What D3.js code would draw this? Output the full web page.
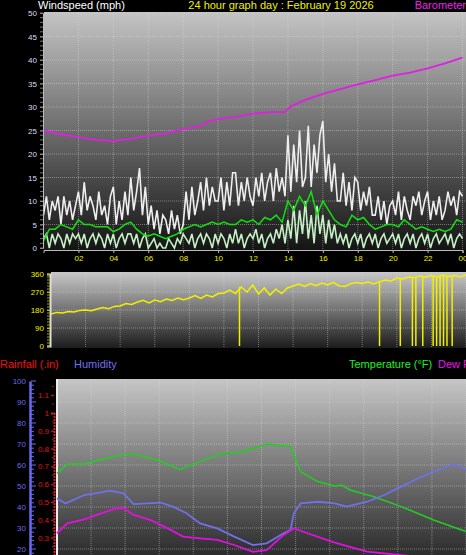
<!DOCTYPE html>
<html><head><meta charset="utf-8">
<script src="https://cdn.jsdelivr.net/npm/d3@7"></script>
<style>body{margin:0;background:#000}svg{display:block;font-family:"DejaVu Sans",sans-serif}</style>
</head><body><div id="chart"></div>
<script>
// gust and wind speed, 10 minute steps from 00:00 to 24:00
const gust = [7,11,6,10,8,11, 5,11,7,10,6,9, 12,7,14,8,11,9, 6,12,7,9,5,11, 13,5,10,6,12,7, 15,8,12,17,7,13,
  5,9,4,8,3,7, 6,3,8,4,7,3, 5,12,6,13,7,10, 14,8,15,9,13,10, 10,15,8,14,9,16, 16,9,14,10,15,11,
  9,15,11,16,10,14, 16,10,17,12,15,11, 24,12,22,14,25,13, 15,26,13,22,16,24, 27,14,20,12,18,10, 10,16,9,14,8,15,
  14,8,12,9,13,7, 7,11,6,10,5,9, 10,7,12,6,11,8, 6,11,9,12,7,10, 12,6,10,7,11,6, 8,12,9,11,7,12, 11];
const speed = [2,3,0,3,1,3, 2,0,3,1,3,2, 3,1,3,0,2,3, 1,3,2,0,3,1, 3,0,2,3,1,3, 3,1,3,0,2,3,
  0,1,2,0,1,0, 0,2,1,0,2,1, 3,2,1,3,0,2, 3,1,3,2,0,3, 1,3,2,0,3,1, 4,1,3,0,2,3,
  2,4,1,3,0,2, 3,1,4,2,5,1, 6,2,9,1,8,3, 10,2,7,1,9,3, 7,1,6,2,5,1, 3,1,3,0,2,3,
  1,3,0,2,3,1, 3,0,2,3,1,2, 3,1,3,0,2,3, 1,3,0,2,3,1, 3,0,2,3,1,2, 3,1,3,0,2,3, 2];
// average speed and direction, 20 minute steps
const avgSpeed = [1.5,4,4, 5,4.5,4, 6,5,5, 4.5,4.5,4.5, 3.5,4,5, 5.5,4,3, 2.5,3,2.5, 2,2.5,3, 4,4.5,5, 4.5,5,5.5,
  5,5.5,5, 5,6,5.5, 6,5,6.5, 6,7,5.5, 10,8,11, 9,12,7, 10,8,6, 5,4.5,7, 6,6.5,5, 4,4.5,5,
  5,4.5,6, 5,4,4.5, 4,3.5,4, 3.5,4,6, 5.5];
const direction = [160,168,165, 172,170,178, 180,176,185, 192,186,198, 200,212,208, 220,228,215, 230,222,235, 228,240,232,
  240,252,238, 255,245,262, 265,280,262, 295,270,305, 260,290,255, 285,262,290, 300,310,298, 312,302,315,
  305,318,300, 298,312,318, 312,320,310, 322,330,325, 340,335,345, 342,350,345, 352,345,355, 348,352,345, 355];
const dirDropHours = [10.9,19.0,20.2,20.9,21.1,21.5,22.1,22.3,22.5,22.7,22.9,23.2];
const baroHours = [0,1,2,3,4,5,6,7,8,9,9.5,10,11,12,13,13.8,14.2,15,16,17,18,19,20,21,22,23,24];
const baro = [25,24.2,23.6,23,22.8,23.2,23.9,24.4,25.3,26,27,27.4,27.9,28.6,28.9,28.9,30.2,31.5,32.8,33.8,34.8,35.7,36.7,37.3,38.2,39.3,40.5];
const tempHours = [0,0.6,1.6,2.5,3.9,4.5,5.9,7.2,8.4,9.6,10.8,12,12.3,13.7,13.9,14.3,15.3,16.3,16.7,17.2,18.6,20.2,22.1,24];
const temperature = [56,60.5,60.5,62.4,65.1,65.2,62.4,57.9,61.6,65.2,66.3,69,70,68.7,64.8,56.8,52.1,50,50.5,48.1,44.9,40.2,33.8,28.3];
const humHours = [0,0.5,1.6,2.5,3.1,3.9,4.5,6.1,6.8,7.6,8.4,9.4,10.4,11.5,12.3,13.3,13.7,13.9,14.3,15.3,16.3,17,18.2,19.2,20.2,21.2,22.1,23.3,24];
const humidity = [44.1,41.7,45.7,46.8,47.8,46.5,41.4,42.1,40.2,37,32.2,29.8,25.9,21.9,22.7,27.5,29,37,41.7,42.5,41.7,40.2,42.5,45.7,49.7,53.7,56.8,60.5,57.9];
const dewHours = [0,0.6,1.6,2.5,3.5,3.9,4.5,5.5,6.5,7.4,8.4,9.4,10.4,11.5,12.3,13.3,13.9,14.7,16.3,18.2,20.2,22.1,24];
const dewPoint = [27.5,32.2,34.1,36.7,39.4,39.4,36.2,33.8,29.8,25.9,25.1,24.3,21.9,18.7,19.5,26.7,29.8,27.5,23,18.7,17.1,15.6,14.8];
const hourTicks = [2,4,6,8,10,12,14,16,18,20,22,24];
const hourLabels = ["02","04","06","08","10","12","14","16","18","20","22","00"];

const W = 466, H = 555;
const svg = d3.select("#chart").append("svg").attr("width", W).attr("height", H);
const defs = svg.append("defs");
function grad(id, top, bottom) {
  const g = defs.append("linearGradient").attr("id", id).attr("x1", 0).attr("x2", 0).attr("y1", 0).attr("y2", 1);
  g.append("stop").attr("offset", "0%").attr("stop-color", top);
  g.append("stop").attr("offset", "100%").attr("stop-color", bottom);
}
grad("g1", "#c4c4c4", "#141414");
grad("g2", "#c8c8c8", "#1c1c1c");
grad("g3", "#c6c6c6", "#2c2c2c");

const fineHours = gust.map((d, i) => i / 6);
const stepHours = avgSpeed.map((d, i) => i / 3);
const font = (sel, size, color) => sel.style("font-size", size + "px").attr("fill", color);
const titleFont = (sel, color) => sel.style("font-family", "'Liberation Sans', Arial, sans-serif").style("font-size", "11px").attr("fill", color);

function gridLines(g, x, y, yTicks, x0, x1, y0, y1) {
  g.selectAll(".vg").data(hourTicks).join("line")
    .attr("x1", d => x(d)).attr("x2", d => x(d)).attr("y1", y0).attr("y2", y1)
    .attr("stroke", "#d8d8d8").attr("stroke-opacity", 0.45).attr("stroke-dasharray", "1,1");
  g.selectAll(".hg").data(yTicks).join("line")
    .attr("x1", x0).attr("x2", x1).attr("y1", d => y(d)).attr("y2", d => y(d))
    .attr("stroke", "#d8d8d8").attr("stroke-opacity", 0.45).attr("stroke-dasharray", "1,1");
}

// ---------- panel 1: wind ----------
const x1 = d3.scaleLinear().domain([0, 24]).range([43.5, 462.5]);
const y1 = d3.scaleLinear().domain([0, 50]).range([248, 13]);
svg.append("rect").attr("x", 44).attr("y", 12).attr("width", W - 44).attr("height", 238).attr("fill", "url(#g1)");
const p1 = svg.append("g");
gridLines(p1, x1, y1, d3.range(5, 51, 5), 44, W, 12, 250);

p1.append("path").datum(gust).attr("d", d3.line().x((d, i) => x1(fineHours[i])).y(d => y1(d)))
  .attr("fill", "none").attr("stroke", "#eeeeee").attr("stroke-width", 1.6);
p1.append("path").datum(speed).attr("d", d3.line().x((d, i) => x1(fineHours[i])).y(d => y1(d)))
  .attr("fill", "none").attr("stroke", "#c4f0c4").attr("stroke-width", 1.6);
p1.append("path").datum(avgSpeed).attr("d", d3.line().x((d, i) => x1(stepHours[i])).y(d => y1(d)))
  .attr("fill", "none").attr("stroke", "#10e010").attr("stroke-width", 1.5);
p1.append("path").datum(baro).attr("d", d3.line().x((d, i) => x1(baroHours[i])).y(d => y1(d)))
  .attr("fill", "none").attr("stroke", "#e020e0").attr("stroke-width", 1.8);

const ay1 = svg.append("g").attr("transform", "translate(43,0)")
  .call(d3.axisLeft(y1).tickValues(d3.range(0, 51, 5)).tickSize(3).tickPadding(3));
ay1.select(".domain").attr("stroke", "#bbb");
ay1.selectAll("line").attr("stroke", "#999");
font(ay1.selectAll("text"), 8, "#dde");
svg.append("g").selectAll("line").data(d3.range(0, 51)).join("line")
  .attr("x1", 40).attr("x2", 43).attr("y1", d => y1(d)).attr("y2", d => y1(d)).attr("stroke", "#777");
const ax1 = svg.append("g").attr("transform", "translate(0,250)")
  .call(d3.axisBottom(x1).tickValues(hourTicks).tickFormat((d, i) => hourLabels[i]).tickSize(3).tickPadding(2));
ax1.select(".domain").attr("stroke", "#bbb");
ax1.selectAll("line").attr("stroke", "#bbb");
font(ax1.selectAll("text"), 8, "#f0f000");

titleFont(svg.append("text").attr("x", 38).attr("y", 9).text("Windspeed (mph)"), "#fff");
titleFont(svg.append("text").attr("x", 281).attr("y", 9).attr("text-anchor", "middle").text("24 hour graph day : February 19 2026"), "#f0f000");
titleFont(svg.append("text").attr("x", 466).attr("y", 9).attr("text-anchor", "end").text("Barometer"), "#f020f0");

// ---------- panel 2: wind direction ----------
const x2 = d3.scaleLinear().domain([0, 24]).range([51, 466]);
const y2 = d3.scaleLinear().domain([0, 360]).range([346, 274]);
svg.append("rect").attr("x", 51).attr("y", 272).attr("width", W - 51).attr("height", 76).attr("fill", "url(#g2)");
const p2 = svg.append("g");
gridLines(p2, x2, y2, [90, 180, 270], 51, W, 272, 348);
p2.append("path").datum(direction).attr("d", d3.line().x((d, i) => x2(stepHours[i])).y(d => y2(d)))
  .attr("fill", "none").attr("stroke", "#f0f000").attr("stroke-width", 1.5);
p2.selectAll(".drop").data(dirDropHours).join("line")
  .attr("x1", d => x2(d)).attr("x2", d => x2(d))
  .attr("y1", d => y2(direction[Math.round(d * 3)])).attr("y2", y2(0))
  .attr("stroke", "#f0f000").attr("stroke-width", 1.5);
const ay2 = svg.append("g").attr("transform", "translate(50,0)")
  .call(d3.axisLeft(y2).tickValues([0, 90, 180, 270, 360]).tickSize(3).tickPadding(3));
ay2.select(".domain").attr("stroke", "#ddd").attr("stroke-width", 2);
ay2.selectAll("line").attr("stroke", "#cc0");
font(ay2.selectAll("text"), 8, "#f0f000");
svg.append("g").selectAll("line").data(d3.range(0, 361, 15)).join("line")
  .attr("x1", 47).attr("x2", 50).attr("y1", d => y2(d)).attr("y2", d => y2(d)).attr("stroke", "#aa0");

// ---------- panel 3: temperature / humidity / dew / rain ----------
const x3 = d3.scaleLinear().domain([0, 24]).range([57, 466]);
const yH = d3.scaleLinear().domain([0, 100]).range([591, 381]);
const yR = d3.scaleLinear().domain([0, 1]).range([591, 413]);
const yT = d3.scaleLinear().domain([0, 100]).range([591, 381]);
svg.append("rect").attr("x", 56).attr("y", 379).attr("width", W - 56).attr("height", H - 379).attr("fill", "url(#g3)");
svg.append("line").attr("x1", 57).attr("x2", 57).attr("y1", 379).attr("y2", H).attr("stroke", "#eee").attr("stroke-width", 2);
const p3 = svg.append("g");
gridLines(p3, x3, yH, d3.range(20, 100, 10), 58, W, 379, H);
p3.append("path").datum(temperature).attr("d", d3.line().x((d, i) => x3(tempHours[i])).y(d => yT(d)))
  .attr("fill", "none").attr("stroke", "#20d020").attr("stroke-width", 1.5);
p3.append("path").datum(humidity).attr("d", d3.line().x((d, i) => x3(humHours[i])).y(d => yH(d)))
  .attr("fill", "none").attr("stroke", "#7070e8").attr("stroke-width", 1.8);
p3.append("path").datum(dewPoint).attr("d", d3.line().x((d, i) => x3(dewHours[i])).y(d => yT(d)))
  .attr("fill", "none").attr("stroke", "#e010e0").attr("stroke-width", 1.8);

const ayH = svg.append("g").attr("transform", "translate(30,0)")
  .call(d3.axisLeft(yH).tickValues(d3.range(20, 101, 10)).tickSize(0).tickPadding(4));
ayH.select(".domain").attr("stroke", "#6a6af0").attr("stroke-width", 2.5);
font(ayH.selectAll("text"), 8, "#6a6af0");
svg.append("g").selectAll("line").data(d3.range(18, 101, 2)).join("line")
  .attr("x1", 31).attr("x2", d => d % 10 ? 34 : 36).attr("y1", d => yH(d)).attr("y2", d => yH(d)).attr("stroke", "#6a6af0");
const ayR = svg.append("g").attr("transform", "translate(54,0)")
  .call(d3.axisLeft(yR).tickValues(d3.range(3, 12).map(d => d / 10)).tickFormat(d3.format("~g")).tickSize(3).tickPadding(2));
ayR.select(".domain").attr("stroke", "#d02020").attr("stroke-width", 2).attr("stroke-dasharray", "2,1");
ayR.selectAll("line").attr("stroke", "#d02020");
font(ayR.selectAll("text"), 8, "#e01010");
svg.append("g").selectAll("line").data(d3.range(2, 24).map(d => d / 20)).join("line")
  .attr("x1", 52).attr("x2", 54).attr("y1", d => yR(d)).attr("y2", d => yR(d)).attr("stroke", "#b01010");

titleFont(svg.append("text").attr("x", 0).attr("y", 368).text("Rainfall (.in)"), "#f01010");
titleFont(svg.append("text").attr("x", 74).attr("y", 368).text("Humidity"), "#7070f0");
titleFont(svg.append("text").attr("x", 349).attr("y", 368).text("Temperature (°F)"), "#20f020");
titleFont(svg.append("text").attr("x", 438).attr("y", 368).text("Dew Point"), "#f010f0");
</script></body></html>
